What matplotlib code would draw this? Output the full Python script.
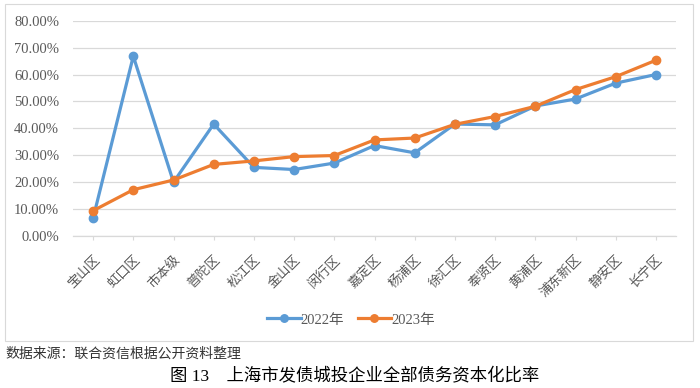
#!/usr/bin/env python3
"""
Debt capitalization ratio of Shanghai urban investment companies, 2022 vs 2023
"""

import matplotlib
matplotlib.use('Agg')
import matplotlib.pyplot as plt
from matplotlib.patches import Rectangle
from matplotlib.ticker import PercentFormatter

plt.rcParams['font.family'] = ['Liberation Serif', 'Noto Sans CJK SC']

districts = ['宝山区', '虹口区', '市本级', '普陀区', '松江区', '金山区', '闵行区', '嘉定区',
             '杨浦区', '徐汇区', '奉贤区', '黄浦区', '浦东新区', '静安区', '长宁区']
ratio_2022 = [6.6, 66.8, 20.0, 41.6, 25.5, 24.7, 27.1, 33.6,
              30.9, 41.6, 41.3, 48.3, 50.9, 56.8, 60.0]
ratio_2023 = [9.4, 17.2, 20.8, 26.6, 27.9, 29.5, 29.9, 35.7,
              36.4, 41.5, 44.4, 48.2, 54.4, 59.2, 65.3]
y_ticks = [0, 10, 20, 30, 40, 50, 60, 70, 80]

BLUE = '#5B9BD5'
ORANGE = '#ED7D31'
GRID = '#D9D9D9'
TEXT = '#595959'

W, H = 700, 388
fig = plt.figure(figsize=(7, 3.88), dpi=100)
ax = fig.add_axes([73 / W, 1 - 236 / H, (676 - 73) / W, (236 - 20.7) / H])

# outer chart frame
fig.patches.append(Rectangle((5 / W, 1 - 341 / H), 688 / W, 337 / H,
                             transform=fig.transFigure, fill=False,
                             edgecolor=GRID, linewidth=0.8))

x = list(range(len(districts)))
ax.plot(x, ratio_2022, '-o', color=BLUE, linewidth=2.3, markersize=6, label='2022年')
ax.plot(x, ratio_2023, '-o', color=ORANGE, linewidth=2.3, markersize=6, label='2023年')

ax.set_xlim(-0.5, len(districts) - 0.5)
ax.set_ylim(0, 80)
ax.set_yticks(y_ticks)
ax.yaxis.set_major_formatter(PercentFormatter(decimals=2))
ax.grid(axis='y', color=GRID, linewidth=0.9)
ax.set_axisbelow(True)
for s in ['top', 'right', 'left']:
    ax.spines[s].set_visible(False)
ax.spines['bottom'].set_color(GRID)
ax.spines['bottom'].set_linewidth(0.9)

ax.tick_params(axis='y', length=0, pad=10, labelsize=10.5, labelcolor=TEXT)
ax.tick_params(axis='x', length=3, color=GRID, pad=9, labelcolor=TEXT)
ax.set_xticks(x)
ax.set_xticklabels(districts, rotation=45, ha='right', rotation_mode='anchor',
                   fontsize=9.5, family='Noto Sans CJK SC')

leg = fig.legend(loc='center', bbox_to_anchor=(351 / W, 1 - 320 / H), ncol=2,
                 frameon=False, fontsize=10.5, handlelength=2.3, markerscale=0.9,
                 columnspacing=0.9, handletextpad=0.0)
for t in leg.get_texts():
    t.set_color(TEXT)

fig.text(5 / W, 1 - 354 / H, '数据来源：联合资信根据公开资料整理', fontsize=10,
         color='#333333', va='center', ha='left', family='Noto Sans CJK SC')
fig.text(355 / W, 1 - 377 / H, '图 13　上海市发债城投企业全部债务资本化比率', fontsize=12.5,
         color='black', va='center', ha='center', fontweight='medium')

plt.savefig('out.png', dpi=100)
plt.close()
